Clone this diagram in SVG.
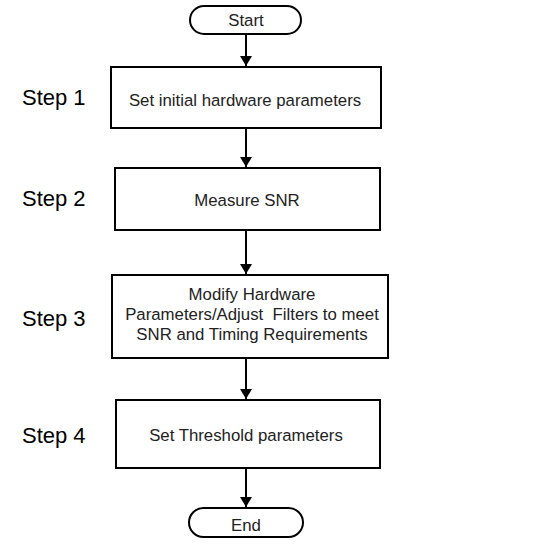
<svg xmlns="http://www.w3.org/2000/svg" width="548" height="548" viewBox="0 0 548 548">
<style>
.box{fill:#fff;stroke:#000;stroke-width:2}
.t{font-family:"Liberation Sans",Arial,sans-serif;font-size:16.8px;fill:#222;text-anchor:middle}
.s{font-family:"Liberation Sans",Arial,sans-serif;font-size:22px;fill:#000}
.c{stroke:#000;stroke-width:2;fill:none}
</style>
<defs>
<marker id="ah" markerWidth="10" markerHeight="12" refX="10" refY="6" orient="auto" markerUnits="userSpaceOnUse">
<path d="M0,0 L10,6 L0,12 Z" fill="#000"/>
</marker>
</defs>
<rect width="548" height="548" fill="#fff"/>
<g id="connectors">
<line class="c" x1="246" y1="34" x2="246" y2="66" marker-end="url(#ah)"/>
<line class="c" x1="246" y1="128" x2="246" y2="167" marker-end="url(#ah)"/>
<line class="c" x1="246" y1="230" x2="246" y2="274" marker-end="url(#ah)"/>
<line class="c" x1="246" y1="358" x2="246" y2="399" marker-end="url(#ah)"/>
<line class="c" x1="246" y1="468" x2="246" y2="507" marker-end="url(#ah)"/>
</g>
<g id="start">
<rect class="box" x="190" y="6" width="111" height="28" rx="14"/>
<text class="t" x="246" y="26">Start</text>
</g>
<g id="step1">
<text class="s" x="22" y="105">Step 1</text>
<rect class="box" x="111" y="67" width="270" height="61"/>
<text class="t" x="245" y="106">Set initial hardware parameters</text>
</g>
<g id="step2">
<text class="s" x="22" y="206">Step 2</text>
<rect class="box" x="115" y="168" width="265" height="62"/>
<text class="t" x="247" y="206">Measure SNR</text>
</g>
<g id="step3">
<text class="s" x="22" y="326">Step 3</text>
<rect class="box" x="112" y="275" width="276" height="83"/>
<text class="t" x="252" y="300">Modify Hardware</text>
<text class="t" x="252" y="320" xml:space="preserve">Parameters/Adjust  Filters to meet</text>
<text class="t" x="252" y="340">SNR and Timing Requirements</text>
</g>
<g id="step4">
<text class="s" x="22" y="443">Step 4</text>
<rect class="box" x="116" y="400" width="264" height="68"/>
<text class="t" x="246" y="441">Set Threshold parameters</text>
</g>
<g id="end">
<rect class="box" x="189" y="508" width="114" height="29" rx="14.5"/>
<text class="t" x="246" y="531">End</text>
</g>
</svg>
